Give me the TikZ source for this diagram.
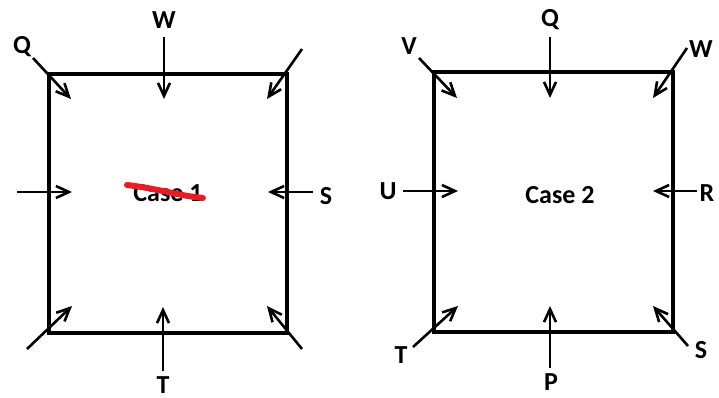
\documentclass[tikz,border=0pt]{standalone}
\usepackage{fontspec}
\setmainfont{Carlito}
\usetikzlibrary{arrows.meta}
\definecolor{strike}{RGB}{232,28,36}
\begin{document}
\begin{tikzpicture}[x=1pt,y=-1pt,
  box/.style={line width=4.4pt, line join=miter},
  force/.style={line width=2.6pt, -{Straight Barb[length=13pt,width=12pt,line width=2.6pt]}},
  lbl/.style={font=\fontsize{26}{26}\selectfont\bfseries, inner sep=0pt},
]
\useasboundingbox (0,0) rectangle (719,398);
% ---------- Case 1 ----------
\coordinate (A1) at (49,74);
\coordinate (B1) at (287,74);
\coordinate (C1) at (287,333);
\coordinate (D1) at (49,333);
\draw[box] (A1) -- (B1) -- (C1) -- (D1) -- cycle;
\node[lbl] (case1) at (168,193) {Case 1};
\draw[strike, line width=6pt, line cap=round] (127,185) .. controls (160,189) and (180,196) .. (203,198);

\node[lbl] (q1) at (22,47) {Q};
\coordinate (q1s) at (33,58);  \coordinate (q1e) at (71,99);
\draw[force] (q1s) -- (q1e);
\node[lbl] (w1) at (164,20) {W};
\coordinate (w1s) at (164,37); \coordinate (w1e) at (164,99);
\draw[force] (w1s) -- (w1e);
\coordinate (tr1s) at (302,49); \coordinate (tr1e) at (267,99);
\draw[force] (tr1s) -- (tr1e);
\coordinate (l1s) at (17,192); \coordinate (l1e) at (72,192);
\draw[force] (l1s) -- (l1e);
\node[lbl] (s1) at (326,196) {S};
\coordinate (s1s) at (313,192); \coordinate (s1e) at (268,192);
\draw[force] (s1s) -- (s1e);
\coordinate (bl1s) at (27,349); \coordinate (bl1e) at (72,306);
\draw[force] (bl1s) -- (bl1e);
\node[lbl] (t1) at (163,385) {T};
\coordinate (t1s) at (163,371); \coordinate (t1e) at (163,307);
\draw[force] (t1s) -- (t1e);
\coordinate (br1s) at (302,349); \coordinate (br1e) at (267,306);
\draw[force] (br1s) -- (br1e);

% ---------- Case 2 ----------
\coordinate (A2) at (434,72);
\coordinate (B2) at (673,72);
\coordinate (C2) at (673,332);
\coordinate (D2) at (434,332);
\draw[box] (A2) -- (B2) -- (C2) -- (D2) -- cycle;
\node[lbl] (case2) at (560,195) {Case 2};

\node[lbl] (v2) at (409,46) {V};
\coordinate (v2s) at (419,58); \coordinate (v2e) at (457,98);
\draw[force] (v2s) -- (v2e);
\node[lbl] (q2) at (550,20) {Q};
\coordinate (q2s) at (550,37); \coordinate (q2e) at (550,98);
\draw[force] (q2s) -- (q2e);
\node[lbl] (w2) at (701,49) {W};
\coordinate (w2s) at (687,48); \coordinate (w2e) at (653,98);
\draw[force] (w2s) -- (w2e);
\node[lbl] (u2) at (388,191) {U};
\coordinate (u2s) at (403,191); \coordinate (u2e) at (458,191);
\draw[force] (u2s) -- (u2e);
\node[lbl] (r2) at (707,193) {R};
\coordinate (r2s) at (697,191); \coordinate (r2e) at (653,191);
\draw[force] (r2s) -- (r2e);
\node[lbl] (t2) at (401,355) {T};
\coordinate (t2s) at (413,347); \coordinate (t2e) at (458,306);
\draw[force] (t2s) -- (t2e);
\node[lbl] (p2) at (551,382) {P};
\coordinate (p2s) at (550,368); \coordinate (p2e) at (550,306);
\draw[force] (p2s) -- (p2e);
\node[lbl] (s2) at (701,350) {S};
\coordinate (s2s) at (688,346); \coordinate (s2e) at (653,306);
\draw[force] (s2s) -- (s2e);
\end{tikzpicture}
\end{document}
